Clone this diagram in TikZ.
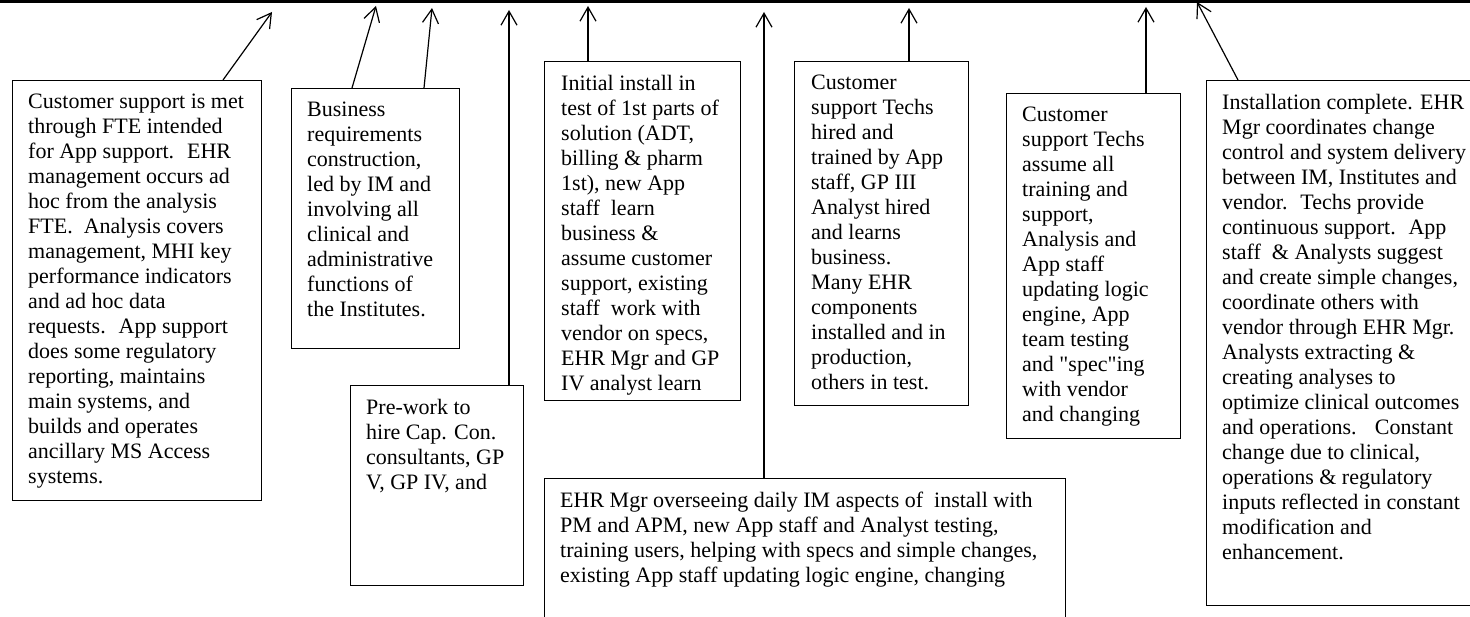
\documentclass[tikz,border=0pt]{standalone}
\usepackage{fontspec}
\setmainfont{Liberation Serif}
\usetikzlibrary{arrows.meta,calc}
\tikzset{
  x=1pt, y=-1pt,
  box/.style={draw, line width=1.2pt, anchor=north west, inner sep=0pt},
  txt/.style={anchor=north west, inner sep=0pt, align=left, font=\fontsize{22}{25}\selectfont},
  arr/.style={line width=1.2pt, -{Straight Barb[length=14pt,width=16pt,line width=1.2pt]}}
}
\begin{document}
\begin{tikzpicture}
\useasboundingbox (0,0) rectangle (1470,617);
\draw[line width=3.5pt] (0,1.75) -- (1470,1.75);

% boxes
\node[box, minimum width=249pt, minimum height=420pt] (b1) at (12,80) {};
\node[box, minimum width=168pt, minimum height=260pt] (b2) at (291,88) {};
\node[box, minimum width=173pt, minimum height=200pt] (b3) at (350,385) {};
\node[box, minimum width=196pt, minimum height=339pt] (b4) at (544,61) {};
\node[box, minimum width=521pt, minimum height=150pt] (b5) at (544,478) {};
\node[box, minimum width=174pt, minimum height=344pt] (b6) at (794,61) {};
\node[box, minimum width=174pt, minimum height=345pt] (b7) at (1006,93) {};
\node[box, minimum width=285pt, minimum height=525pt] (b8) at (1206,80) {};

% texts
\node[txt] (t1) at ($(b1.north west)+(16,14)$) {Customer support is met\\through FTE intended\\for App support.~ EHR\\management occurs ad\\hoc from the analysis\\FTE.~ Analysis covers\\management, MHI key\\performance indicators\\and ad hoc data\\requests.~ App support\\does some regulatory\\reporting, maintains\\main systems, and\\builds and operates\\ancillary MS Access\\systems.};
\node[txt] (t2) at ($(b2.north west)+(16,14)$) {Business\\requirements\\construction,\\led by IM and\\involving all\\clinical and\\administrative\\functions of\\the Institutes.};
\node[txt] (t3) at ($(b3.north west)+(16,14)$) {Pre-work to\\hire Cap. Con.\\consultants, GP\\V, GP IV, and};
\node[txt] (t4) at ($(b4.north west)+(17,14)$) {Initial install in\\test of 1st parts of\\solution (ADT,\\billing \& pharm\\1st), new App\\staff~ learn\\business \&\\assume customer\\support, existing\\staff~ work with\\vendor on specs,\\EHR Mgr and GP\\IV analyst learn};
\node[txt] (t5) at ($(b5.north west)+(16,14)$) {EHR Mgr overseeing daily IM aspects of~ install with\\PM and APM, new App staff and Analyst testing,\\training users, helping with specs and simple changes,\\existing App staff updating logic engine, changing};
\node[txt] (t6) at ($(b6.north west)+(17,14)$) {Customer\\support Techs\\hired and\\trained by App\\staff, GP III\\Analyst hired\\and learns\\business.\\Many EHR\\components\\installed and in\\production,\\others in test.};
\node[txt] (t7) at ($(b7.north west)+(16,14)$) {Customer\\support Techs\\assume all\\training and\\support,\\Analysis and\\App staff\\updating logic\\engine, App\\team testing\\and \textquotedbl spec\textquotedbl ing\\with vendor\\and changing};
\node[txt] (t8) at ($(b8.north west)+(16,14)$) {Installation complete. EHR\\Mgr coordinates change\\control and system delivery\\between IM, Institutes and\\vendor.~ Techs provide\\continuous support.~ App\\staff~ \& Analysts suggest\\and create simple changes,\\coordinate others with\\vendor through EHR Mgr.\\Analysts extracting \&\\creating analyses to\\optimize clinical outcomes\\and operations.~~ Constant\\change due to clinical,\\operations \& regulatory\\inputs reflected in constant\\modification and\\enhancement.};

% arrow ends
\coordinate (p1) at (272,12);
\coordinate (p2) at (376,6);
\coordinate (p3) at (432,8);
\coordinate (p4) at (509,10);
\coordinate (p5) at (588,6);
\coordinate (p6) at (764,12);
\coordinate (p7) at (909,8);
\coordinate (p8) at (1146,7);
\coordinate (p9) at (1197,2);

\draw[arr] ($(b1.north west)+(211,0)$) -- (p1);
\draw[arr] ($(b2.north west)+(61,0)$) -- (p2);
\draw[arr] ($(b2.north west)+(133,0)$) -- (p3);
\draw[arr] ($(b3.north west)+(159,0)$) -- (p4);
\draw[arr] ($(b4.north west)+(44,0)$) -- (p5);
\draw[arr] ($(b5.north west)+(220,0)$) -- (p6);
\draw[arr] ($(b6.north west)+(115,0)$) -- (p7);
\draw[arr] ($(b7.north west)+(140,0)$) -- (p8);
\draw[arr] ($(b8.north west)+(32,0)$) -- (p9);
\end{tikzpicture}
\end{document}
